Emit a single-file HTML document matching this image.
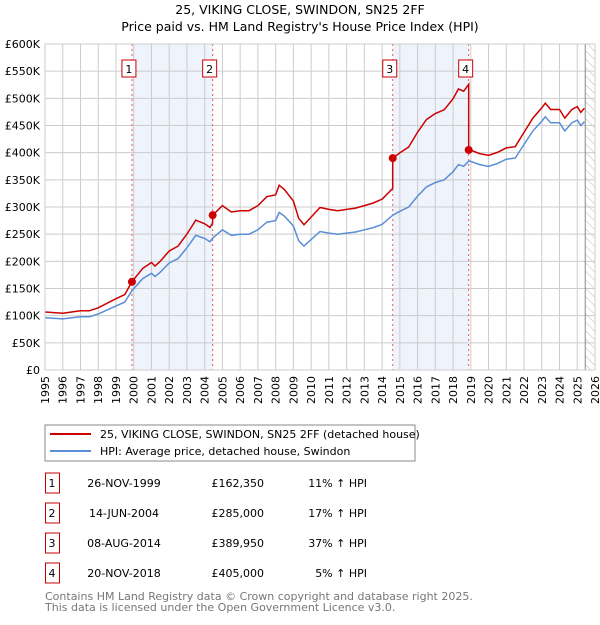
<!DOCTYPE html>
<html><head><meta charset="utf-8"><style>
body{margin:0;background:#fff;font-family:"Liberation Sans","DejaVu Sans",sans-serif;}
svg text{font-family:"DejaVu Sans","Liberation Sans",sans-serif;}
</style></head><body>
<svg id="c" width="600" height="620" viewBox="0 0 600 620" xmlns="http://www.w3.org/2000/svg">
<defs><pattern id="hatch" width="6" height="6" patternUnits="userSpaceOnUse" patternTransform="rotate(-45)"><line x1="0" y1="0" x2="0" y2="6" stroke="#bbb" stroke-width="1"/></pattern></defs>
<text x="300" y="14" text-anchor="middle" font-size="12.5">25, VIKING CLOSE, SWINDON, SN25 2FF</text>
<text x="300" y="31" text-anchor="middle" font-size="12.5">Price paid vs. HM Land Registry's House Price Index (HPI)</text>
<g id="plot"></g>
<rect x="45" y="425" width="370" height="36" fill="#fff" stroke="#888"/>
<line x1="50" y1="434" x2="91" y2="434" stroke="#cc0000" stroke-width="2"/>
<text x="100" y="438" font-size="11">25, VIKING CLOSE, SWINDON, SN25 2FF (detached house)</text>
<line x1="50" y1="451" x2="91" y2="451" stroke="#5b8ed6" stroke-width="2"/>
<text x="100" y="455" font-size="11">HPI: Average price, detached house, Swindon</text>
<g id="table"></g>
<text x="45" y="600" font-size="11" fill="#777">Contains HM Land Registry data © Crown copyright and database right 2025.</text>
<text x="45" y="611" font-size="11" fill="#777">This data is licensed under the Open Government Licence v3.0.</text>
</svg>
<script>
const hpiDates=[1995,1996,1997,1997.5,1998,1999,1999.5,1999.9,2000.5,2001,2001.2,2001.5,2002,2002.5,2003,2003.5,2004,2004.3,2004.45,2005,2005.5,2006,2006.5,2007,2007.5,2008,2008.2,2008.5,2009,2009.3,2009.6,2010,2010.5,2011,2011.5,2012,2012.5,2013,2013.5,2014,2014.6,2015,2015.5,2016,2016.5,2017,2017.5,2018,2018.3,2018.6,2018.9,2019.5,2020,2020.5,2021,2021.5,2022,2022.5,2023,2023.2,2023.5,2024,2024.3,2024.7,2025,2025.2,2025.4];
const hpiValues=[96,94,98,98,103,118,125,146,168,178,172,180,197,205,225,248,242,236,243,258,248,250,250,258,272,275,290,283,265,238,228,240,255,252,250,252,254,258,262,268,285,292,300,320,337,345,350,365,378,375,385,378,375,380,388,390,415,440,458,466,455,455,440,455,460,450,457];
const saleDates=[1999.9,2004.45,2014.6,2018.88];
const salePrices=[162350,285000,389950,405000];
const saleLabels=["26-NOV-1999","14-JUN-2004","08-AUG-2014","20-NOV-2018"];
const salePriceText=["£162,350","£285,000","£389,950","£405,000"];
const saleHpiText=["11% ↑ HPI","17% ↑ HPI","37% ↑ HPI","5% ↑ HPI"];
const yTicks=[0,50,100,150,200,250,300,350,400,450,500,550,600];
const xYears=[1995,1996,1997,1998,1999,2000,2001,2002,2003,2004,2005,2006,2007,2008,2009,2010,2011,2012,2013,2014,2015,2016,2017,2018,2019,2020,2021,2022,2023,2024,2025,2026];

const NS="http://www.w3.org/2000/svg";
const X0=45,X1=595,Y0=370,Y1=44;
const xs=t=>X0+(t-1995)/(2026-1995)*(X1-X0);
const ys=v=>Y0-v/600*(Y0-Y1);
const plot=document.getElementById('plot');
function mk(tag,attrs,parent){const e=document.createElementNS(NS,tag);for(const k in attrs)e.setAttribute(k,attrs[k]);(parent||plot).appendChild(e);return e;}
function hpiAt(t){for(let i=0;i<hpiDates.length-1;i++){if(t>=hpiDates[i]&&t<=hpiDates[i+1]){const f=(t-hpiDates[i])/(hpiDates[i+1]-hpiDates[i]);return hpiValues[i]+f*(hpiValues[i+1]-hpiValues[i]);}}return hpiValues[hpiValues.length-1];}

// shaded ranges
for(let i=0;i<saleDates.length;i+=2){
  const r=mk('rect',{x:xs(saleDates[i]),y:Y1,width:xs(saleDates[i+1])-xs(saleDates[i]),height:Y0-Y1,fill:'#eef3fc'});
  
  
}
const hx=xs(2025.45);
const h=mk('rect',{x:hx,y:Y1,width:X1-hx,height:Y0-Y1,fill:'url(#hatch)'});


// grid
yTicks.forEach(v=>{
  const l=mk('line',{x1:X0,x2:X1,y1:ys(v),y2:ys(v),stroke:'#cccccc','stroke-width':1});
  
  
  const t=mk('text',{x:40,y:ys(v)+4,'text-anchor':'end','font-size':11});
  
  
  t.textContent=v===0?'£0':'£'+v+'K';
});
xYears.forEach(y=>{
  const l=mk('line',{x1:xs(y),x2:xs(y),y1:Y1,y2:Y0,stroke:'#cccccc','stroke-width':1});
  
  
  const t=mk('text',{x:0,y:0,'font-size':11,transform:`translate(${xs(y)+4},${Y0+6}) rotate(-90)`,'text-anchor':'end'});
  
  
  t.textContent=y;
});
const hb=mk('line',{x1:hx,x2:hx,y1:Y1,y2:Y0,stroke:'#888','stroke-width':1});


// sale lines
saleDates.forEach((d,i)=>{
  const l=mk('line',{x1:xs(d),x2:xs(d),y1:Y1,y2:Y0,stroke:'#ee5555','stroke-width':1,'stroke-dasharray':'2,3'});
  
  
});
// hpi line
let p='';
hpiDates.forEach((d,i)=>{p+=(i?'L':'M')+xs(d).toFixed(1)+','+ys(hpiValues[i]).toFixed(1);});
const hl=mk('path',{d:p,fill:'none',stroke:'#5b8ed6','stroke-width':1.5});


// property line
function factorAt(t){let idx=0;for(let i=0;i<saleDates.length;i++){if(t>=saleDates[i])idx=i;}return salePrices[idx]/1000/hpiAt(saleDates[idx]);}
let pts=[];
hpiDates.forEach((d,i)=>{pts.push([d,hpiValues[i]*factorAt(d)]);});
saleDates.forEach((d,i)=>{
  if(i>0){const f0=salePrices[i-1]/1000/hpiAt(saleDates[i-1]);pts.push([d-0.001,hpiAt(d)*f0]);}
  pts.push([d,salePrices[i]/1000]);
});
pts.sort((a,b)=>a[0]-b[0]);
let rp='';
pts.forEach((q,i)=>{rp+=(i?'L':'M')+xs(q[0]).toFixed(1)+','+ys(q[1]).toFixed(1);});
const rl=mk('path',{d:rp,fill:'none',stroke:'#cc0000','stroke-width':1.5});


saleDates.forEach((d,i)=>{
  const c=mk('circle',{cx:xs(d),cy:ys(salePrices[i]/1000),r:4,fill:'#cc0000'});
  
  
  const b=mk('rect',{x:xs(d)-10,y:60,width:14,height:17,fill:'#fff',stroke:'#cc0000'});
  
  
  const t=mk('text',{x:xs(d)-3,y:73,'text-anchor':'middle','font-size':11});
  
  
  t.textContent=i+1;
});
const ax=mk('rect',{x:X0,y:Y1,width:X1-X0,height:Y0-Y1,fill:'none',stroke:'#cccccc'});


// table
const tbl=document.getElementById('table');
saleDates.forEach((d,i)=>{
  const y=483+i*30;
  const b=mk('rect',{x:45.5,y:y-10,width:14,height:20,fill:'#fff',stroke:'#cc0000'},tbl);
  
  
  const cells=[[52,String(i+1),'middle'],[124,saleLabels[i],'middle'],[264,salePriceText[i],'end'],[367,saleHpiText[i],'end']];
  cells.forEach((c,j)=>{
    const t=mk('text',{x:c[0],y:y+4,'text-anchor':c[2],'font-size':11},tbl);
    
    
    t.textContent=c[1];
  });
});
</script>
</body></html>
